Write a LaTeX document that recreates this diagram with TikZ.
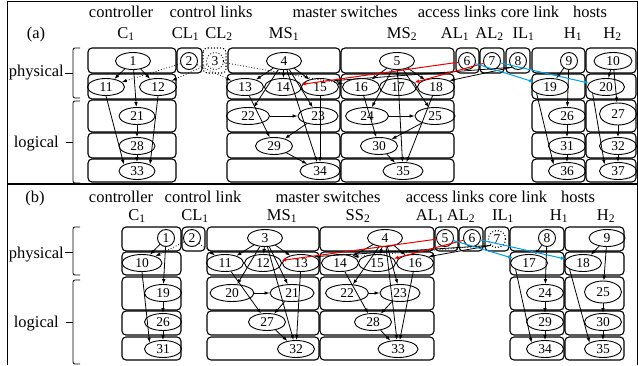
\documentclass[tikz,border=0pt]{standalone}
\usepackage{fontspec}
\setmainfont{Liberation Serif}
\usetikzlibrary{arrows.meta,shapes.geometric}
\definecolor{linkblue}{RGB}{0,160,230}
\definecolor{linkred}{RGB}{235,0,0}
\newcommand\numfont{\fontsize{13.5}{14}\selectfont}
\newcommand\hdfont{\fontsize{16.5}{18}\selectfont}
\begin{document}
\begin{tikzpicture}[x=1pt,y=-1pt,
 box/.style={draw,line width=1.1pt,rounded corners=4pt},
 dbox/.style={box,dotted},
 el/.style={draw,ellipse,line width=0.9pt,minimum width=37pt,minimum height=17pt,inner sep=0pt,font=\numfont},
 ci/.style={draw,circle,line width=0.9pt,minimum size=17pt,inner sep=0pt,font=\numfont},
 ar/.style={line width=0.8pt,-{Latex[length=5pt,width=3.6pt]}},
 dar/.style={ar,dotted},
 rlink/.style={ar,draw=linkred,line width=1pt},
 blink/.style={ar,draw=linkblue,line width=1pt},
 hd/.style={font=\hdfont,inner sep=0pt,anchor=base},
 brk/.style={draw,line width=0.8pt,rounded corners=2pt}]
\useasboundingbox (0,0) rectangle (638,365);
% frame
\draw[line width=1pt] (7,365) -- (7,1) -- (637,1) -- (637,365);
\draw[line width=1.2pt] (7,184) -- (637,184);

% ================= (a) =================
\node[hd] (ta1) at (121,17) {controller};
\node[hd] (ta2) at (211,17) {control links};
\node[hd] (ta3) at (345,17) {master switches};
\node[hd] (ta4) at (457,17) {access links};
\node[hd] (ta5) at (530,17) {core link};
\node[hd] (ta6) at (590,17) {hosts};
\node[hd] (la) at (36,38) {(a)};
\node[hd] (sa1) at (126,38) {C\textsubscript{1}};
\node[hd] (sa2) at (185.5,38) {CL\textsubscript{1}};
\node[hd] (sa3) at (219,38) {CL\textsubscript{2}};
\node[hd] (sa4) at (284,38) {MS\textsubscript{1}};
\node[hd] (sa5) at (402,38) {MS\textsubscript{2}};
\node[hd] (sa6) at (455,38) {AL\textsubscript{1}};
\node[hd] (sa7) at (489.5,38) {AL\textsubscript{2}};
\node[hd] (sa8) at (523.5,38) {IL\textsubscript{1}};
\node[hd] (sa9) at (573,38) {H\textsubscript{1}};
\node[hd] (sa10) at (612.5,38) {H\textsubscript{2}};
\node[hd,anchor=base east] (pa) at (64,76) {physical};
\node[hd,anchor=base east] (lga) at (59,147) {logical};
\draw[brk] (80,48) -- (73,48) -- (73,98) -- (80,98);
\draw[line width=0.8pt] (65,73) -- (73,73);
\draw[brk] (80,101) -- (73,101) -- (73,183) -- (80,183);
\draw[line width=0.8pt] (66,142) -- (73,142);

% boxes (a)
\foreach \l/\r in {88/176,177/202,228/340,341/454,456/479,480/504,506/530,532/585,586/636}
  \draw[box] (\l,48) rectangle (\r,73);
\draw[dbox] (203,48) rectangle (226,73);
\foreach \l/\r in {88/176,227/340,341/454,532/585,586/636}
  \foreach \t/\b in {74/99,100/132,133/158,159/182}
    \draw[box] (\l,\t) rectangle (\r,\b);

% nodes (a)
\node[el,minimum width=35pt] (n1) at (133,61) {1};
\node[ci] (n2) at (189,61) {2};
\node[ci,dotted] (n3) at (215,61) {3};
\node[el,minimum width=35pt] (n4) at (284,61) {4};
\node[el,minimum width=35pt] (n5) at (397,61) {5};
\node[ci] (n6) at (467,61) {6};
\node[ci] (n7) at (492,61) {7};
\node[ci] (n8) at (518,61) {8};
\node[ci] (n9) at (569,61) {9};
\node[el,minimum width=38pt] (n10) at (613,61) {10};
\node[el] (n11) at (106,87) {11};
\node[el] (n12) at (158,87) {12};
\node[el] (n13) at (245,87) {13};
\node[el] (n14) at (283,87) {14};
\node[el] (n15) at (320,87) {15};
\node[el] (n16) at (361,87) {16};
\node[el] (n17) at (398,87) {17};
\node[el] (n18) at (436,87) {18};
\node[el] (n19) at (550,87) {19};
\node[el] (n20) at (606,87) {20};
\node[el,minimum width=36pt] (n21) at (137,116) {21};
\node[el,minimum width=36pt] (n28) at (137,146) {28};
\node[el,minimum width=36pt] (n33) at (137,171) {33};
\node[el,minimum width=43pt] (n22) at (248,116) {22};
\node[el,minimum width=40pt] (n23) at (318,116) {23};
\node[el] (n29) at (274,146) {29};
\node[el,minimum width=40pt] (n34) at (320,171) {34};
\node[el,minimum width=43pt] (n24) at (367,116) {24};
\node[el,minimum width=40pt] (n25) at (435,116) {25};
\node[el] (n30) at (379,146) {30};
\node[el,minimum width=40pt] (n35) at (403,171) {35};
\node[el] (n26) at (567,116) {26};
\node[el] (n31) at (567,146) {31};
\node[el] (n36) at (567,171) {36};
\node[el,minimum height=22pt] (n27) at (618,114) {27};
\node[el] (n32) at (618,146) {32};
\node[el] (n37) at (618,171) {37};

% edges (a)
\foreach \a/\b in {n1/n11,n1/n12,n1/n21,n21/n28,n28/n33,
  n4/n13,n4/n14,n4/n15,n4/n22,n4/n23,n4/n34,n13/n29,n15/n34,n22/n23,n23/n29,n29/n34,
  n5/n16,n5/n17,n5/n18,n5/n24,n5/n25,n5/n35,n16/n30,n18/n35,n24/n25,n25/n30,n30/n35,
  n9/n19,n9/n26,n26/n31,n31/n36,
  n10/n20,n10/n27,n27/n32,n32/n37}
  \draw[ar] (\a) -- (\b);
\draw[ar] (n11.south) -- (n33.north west);
\draw[ar] (n12.south) -- (n33.north east);
\draw[ar] (n19.south west) -- (n36.north west);
\draw[ar] (n20.south west) -- (n37.north west);
\draw[ar] (n8.south west) -- (n15.north east);
\draw[ar] (n8.south west) -- (n18.north east);
\draw[dar] (n2) -- (n11);
\draw[dar] (n2) -- (n13);
\draw[dar] (n3) -- (n12);
\draw[dar] (n3) -- (n16);
\draw[rlink] (n6) -- (n14);
\draw[rlink] (n7) -- (n17);
\draw[blink] (n6) -- (n19);
\draw[blink] (n7) -- (n20);

% ================= (b) =================
\node[hd] (lb) at (35,202) {(b)};
\node[hd] (tb1) at (121,202) {controller};
\node[hd] (tb2) at (203,202) {control link};
\node[hd] (tb3) at (328,202) {master switches};
\node[hd] (tb4) at (445,202) {access links};
\node[hd] (tb5) at (518,202) {core link};
\node[hd] (tb6) at (578,202) {hosts};
\node[hd] (sb1) at (137,220) {C\textsubscript{1}};
\node[hd] (sb2) at (195,220) {CL\textsubscript{1}};
\node[hd] (sb3) at (282,220) {MS\textsubscript{1}};
\node[hd] (sb4) at (358,220) {SS\textsubscript{2}};
\node[hd] (sb5) at (430,220) {AL\textsubscript{1}};
\node[hd] (sb6) at (461,220) {AL\textsubscript{2}};
\node[hd] (sb7) at (503,220) {IL\textsubscript{1}};
\node[hd] (sb8) at (559,220) {H\textsubscript{1}};
\node[hd] (sb9) at (606,220) {H\textsubscript{2}};
\node[hd,anchor=base east] (pb) at (64,258) {physical};
\node[hd,anchor=base east] (lgb) at (59,327) {logical};
\draw[brk] (80,227) -- (73,227) -- (73,275) -- (80,275);
\draw[line width=0.8pt] (65,252) -- (73,252);
\draw[brk] (80,280) -- (73,280) -- (73,364) -- (80,364);
\draw[line width=0.8pt] (66,322) -- (73,322);

% boxes (b)
\foreach \l/\r in {122/181,182/205,207/319,320/434,435/458,459/483,485/509,510/564,565/624}
  \draw[box] (\l,227) rectangle (\r,251);
\foreach \l/\r in {122/181,207/319,320/434,510/564,565/624}
  \foreach \t/\b in {252/275,277/310,311/335,337/360}
    \draw[box] (\l,\t) rectangle (\r,\b);

% nodes (b)
\node[ci] (m1) at (166,238) {1};
\node[ci] (m2) at (192,238) {2};
\node[el,minimum width=35pt] (m3) at (265,238) {3};
\node[el,minimum width=35pt] (m4) at (385,238) {4};
\node[ci] (m5) at (445,238) {5};
\node[ci] (m6) at (472,238) {6};
\node[ci,dotted,line width=1.2pt] (m7) at (497,239) {7};
\node[ci] (m8) at (547,238) {8};
\node[el,minimum width=36pt] (m9) at (607,238) {9};
\node[el,minimum width=40pt] (m10) at (142,263) {10};
\node[el] (m11) at (225,263) {11};
\node[el] (m12) at (263,263) {12};
\node[el] (m13) at (301,263) {13};
\node[el] (m14) at (340,263) {14};
\node[el] (m15) at (377,263) {15};
\node[el] (m16) at (415,263) {16};
\node[el] (m17) at (529,263) {17};
\node[el] (m18) at (583,263) {18};
\node[el] (m19) at (163,293) {19};
\node[el] (m26) at (163,322) {26};
\node[el] (m31) at (163,349) {31};
\node[el,minimum width=44pt] (m20) at (232,293) {20};
\node[el,minimum width=44pt] (m21) at (292,293) {21};
\node[el] (m27) at (267,322) {27};
\node[el] (m32) at (296,349) {32};
\node[el,minimum width=43pt] (m22) at (347,293) {22};
\node[el,minimum width=40pt] (m23) at (400,293) {23};
\node[el] (m28) at (373,322) {28};
\node[el,minimum width=40pt] (m33) at (398,349) {33};
\node[el] (m24) at (545,293) {24};
\node[el] (m29) at (545,322) {29};
\node[el] (m34) at (545,349) {34};
\node[el,minimum height=22pt] (m25) at (603,292) {25};
\node[el] (m30) at (603,322) {30};
\node[el] (m35) at (603,349) {35};

% edges (b)
\foreach \a/\b in {m1/m10,m1/m19,m19/m26,m26/m31,
  m3/m11,m3/m12,m3/m13,m3/m20,m3/m21,m3/m32,m11/m27,m13/m32,m20/m21,m21/m27,m27/m32,
  m4/m14,m4/m15,m4/m16,m4/m22,m4/m23,m4/m33,m14/m28,m16/m33,m22/m23,m23/m28,m28/m33,
  m8/m17,m8/m24,m24/m29,m29/m34,
  m9/m18,m9/m25,m25/m30,m30/m35}
  \draw[ar] (\a) -- (\b);
\draw[ar] (m10.south) -- (m31.north west);
\draw[ar] (m17.south west) -- (m34.north west);
\draw[ar] (m18.south west) -- (m35.north west);
\draw[ar] (m7.south west) -- (m13.north east);
\draw[ar] (m7.south west) -- (m16.north east);
\draw[dar] (m7.south west) -- (m14.north east);
\draw[dar] (m2) -- (m10);
\draw[dar] (m2) -- (m11);
\draw[rlink] (m5) -- (m12);
\draw[rlink] (m6) -- (m15);
\draw[blink] (m5) -- (m17);
\draw[blink] (m6) -- (m18);
\end{tikzpicture}
\end{document}
